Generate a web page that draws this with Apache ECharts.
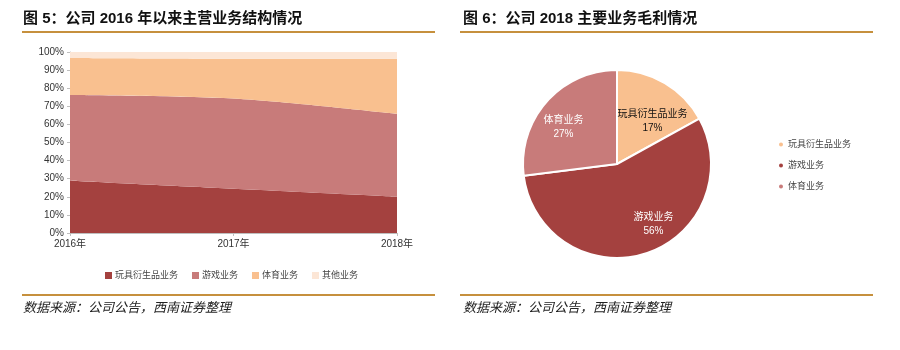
<!DOCTYPE html>
<html><head><meta charset="utf-8">
<script src="https://cdn.jsdelivr.net/npm/echarts@6/dist/echarts.min.js"></script>
<style>html,body{margin:0;padding:0;background:#fff}#c{width:900px;height:350px}</style>
</head><body><div id="c"></div>
<script>
const years = ['2016年', '2017年', '2018年'];
const seriesNames = ['玩具衍生品业务', '游戏业务', '体育业务', '其他业务'];
const toyShare = [28.8, 24.4, 20.0];
const gameShare = [47.5, 49.9, 45.8];
const sportsShare = [20.4, 22.0, 30.5];
const otherShare = [3.3, 3.7, 3.7];
const pieNames = ['玩具衍生品业务', '游戏业务', '体育业务'];
const pieValues = [17, 56, 27];
const yTicks = [0, 10, 20, 30, 40, 50, 60, 70, 80, 90, 100];

const colors = ['#A4413F', '#C87B7A', '#F9C08F', '#FCE6D6'];
const pieColors = ['#F9C08F', '#A4413F', '#C87B7A'];
const pieLabelColors = ['#111', '#fff', '#fff'];
const pieLabelOffsets = [[10, 0], [21, 13], [-16, -4]];
const gold = '#C6903D';
const font = '"Liberation Sans", "Noto Sans CJK SC", sans-serif';

const chart = echarts.init(document.getElementById('c'), null, {renderer: 'canvas'});
const areaData = [toyShare, gameShare, sportsShare, otherShare];

const option = {
  animation: false,
  textStyle: {fontFamily: font},
  graphic: [
    {type: 'text', left: 23, top: 11, style: {text: '图 5：公司 2016 年以来主营业务结构情况', font: 'bold 15px ' + font, fill: '#111'}},
    {type: 'rect', shape: {x: 22, y: 31, width: 413, height: 2}, style: {fill: gold}},
    {type: 'rect', shape: {x: 22, y: 294, width: 413, height: 2}, style: {fill: gold}},
    {type: 'text', left: 23, top: 302, style: {text: '数据来源：公司公告，西南证券整理', font: 'italic 13px ' + font, fill: '#222'}},
    {type: 'text', left: 463, top: 11, style: {text: '图 6：公司 2018 主要业务毛利情况', font: 'bold 15px ' + font, fill: '#111'}},
    {type: 'rect', shape: {x: 460, y: 31, width: 413, height: 2}, style: {fill: gold}},
    {type: 'rect', shape: {x: 460, y: 294, width: 413, height: 2}, style: {fill: gold}},
    {type: 'text', left: 463, top: 302, style: {text: '数据来源：公司公告，西南证券整理', font: 'italic 13px ' + font, fill: '#222'}}
  ],
  grid: {left: 70, top: 52, width: 327, height: 181},
  xAxis: {
    type: 'category', data: years, boundaryGap: false,
    axisLine: {lineStyle: {color: '#BFBFBF'}},
    axisTick: {show: true, alignWithLabel: true, length: 3, lineStyle: {color: '#BFBFBF'}},
    axisLabel: {fontSize: 10, color: '#333', margin: 6}
  },
  yAxis: {
    type: 'value', min: 0, max: 100, interval: 10,
    axisLine: {show: true, lineStyle: {color: '#BFBFBF'}},
    axisTick: {show: true, length: 3, lineStyle: {color: '#BFBFBF'}},
    splitLine: {show: false},
    axisLabel: {fontSize: 10, color: '#333', margin: 6, formatter: v => yTicks.includes(v) ? v + '%' : ''}
  },
  legend: [
    {
      data: seriesNames.map((n, i) => ({name: n, itemStyle: {color: colors[i]}})),
      left: 100, top: 266, itemWidth: 7, itemHeight: 7, itemGap: 14,
      icon: 'rect', textStyle: {fontSize: 9, color: '#444', padding: [0, 0, 0, -2]}
    },
    {
      data: pieNames.map((n, i) => ({name: n, itemStyle: {color: pieColors[i]}})),
      orient: 'vertical', left: 774, top: 135, itemWidth: 4, itemHeight: 4, itemGap: 12,
      icon: 'circle', textStyle: {fontSize: 9, color: '#444'}
    }
  ],
  series: seriesNames.map((n, i) => ({
    name: n, type: 'line', stack: 'total', data: areaData[i], smooth: 0.3,
    symbol: 'none', lineStyle: {width: 0}, areaStyle: {color: colors[i], opacity: 1},
    itemStyle: {color: colors[i]}
  })).concat([{
    name: 'pie', type: 'pie', center: [617, 164], radius: [0, 94], startAngle: 90, clockwise: true,
    data: pieNames.map((n, i) => ({name: n, value: pieValues[i], itemStyle: {color: pieColors[i]},
      label: {color: pieLabelColors[i], offset: pieLabelOffsets[i]}})),
    itemStyle: {borderColor: '#fff', borderWidth: 2},
    label: {show: true, position: 'inside', fontSize: 10, lineHeight: 14, formatter: p => p.name + '\n' + p.value + '%'},
    labelLine: {show: false}
  }])
};
chart.setOption(option);
</script></body></html>
